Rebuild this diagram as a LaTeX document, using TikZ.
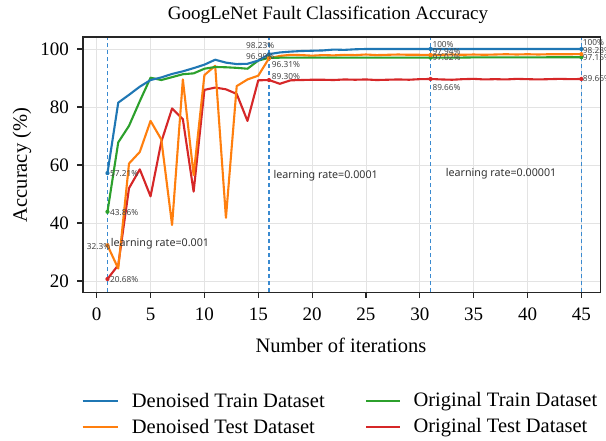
\documentclass[tikz,border=0pt]{standalone}
\usepackage{fontspec}
\setmainfont{Liberation Serif}
\newfontfamily\lblfont{Noto Sans}
\definecolor{cblue}{HTML}{1F77B4}
\definecolor{corange}{HTML}{FF7F0E}
\definecolor{cgreen}{HTML}{2CA02C}
\definecolor{cred}{HTML}{D62728}
\definecolor{cdash}{HTML}{3A8AD0}
\definecolor{cgrid}{HTML}{E3E3E3}
\tikzset{
  series/.style={line width=2.1pt, line join=round, line cap=round},
  gridline/.style={draw=cgrid, line width=0.8pt},
  lrline/.style={draw=cdash, line width=1.5pt, dash pattern=on 4pt off 3pt},
  pct/.style={font=\lblfont\fontsize{8.3}{9}\selectfont, text=black!72, inner sep=0pt, anchor=west},
  lrtext/.style={font=\lblfont\fontsize{10.7}{12}\selectfont, text=black!80, inner sep=0pt, anchor=west},
  ticklab/.style={font=\fontsize{19}{21}\selectfont, inner sep=0pt},
  legtext/.style={font=\fontsize{20.5}{22}\selectfont, inner sep=0pt, anchor=west},
  legline/.style={line width=2pt},
  dot/.style={radius=2.1pt}
}
\begin{document}
\begin{tikzpicture}[x=1pt,y=-1pt]
\useasboundingbox (0,0) rectangle (606,441);
\fill[white] (0,0) rectangle (606,441);
\begin{scope}[shift={(96.7,339)},x=10.77pt,y=2.9pt]
  % grid
  \foreach \i in {0,5,...,45} \draw[gridline] (\i,16.2) -- (\i,104.1);
  \foreach \v in {20,40,...,100} \draw[gridline] (-1.27,\v) -- (46.8,\v);
  % learning-rate dashed lines
  \foreach \i in {1,16,31,45} \draw[lrline] (\i,16.2) -- (\i,104.1);
  % series
  \draw[series, cred] plot coordinates {(1,20.68)(2,25.5)(3,52)(4,58.5)(5,49.2)(6,68)(7,79.5)(8,75.8)(9,50.8)(10,85.9)(11,86.7)(12,86.1)(13,84.5)(14,75.2)(15,89.2)(16,89.3)(17,88.0)(18,89.2)(19,89.3)(20,89.4)(21,89.4)(22,89.3)(23,89.5)(24,89.4)(25,89.5)(26,89.3)(27,89.4)(28,89.5)(29,89.4)(30,89.6)(31,89.66)(32,89.5)(33,89.4)(34,89.6)(35,89.7)(36,89.5)(37,89.6)(38,89.5)(39,89.7)(40,89.6)(41,89.5)(42,89.6)(43,89.7)(44,89.6)(45,89.66)};
  \draw[series, corange] plot coordinates {(1,32.3)(2,24.3)(3,60.5)(4,64.5)(5,75.2)(6,68.8)(7,39.3)(8,89.5)(9,56.5)(10,91)(11,94.2)(12,41.8)(13,87.2)(14,89.5)(15,90.8)(16,96.8)(17,97.6)(18,98.0)(19,97.9)(20,97.7)(21,97.9)(22,97.8)(23,98.0)(24,97.9)(25,98.1)(26,97.9)(27,98.0)(28,98.1)(29,98.0)(30,98.0)(31,97.94)(32,98.0)(33,98.1)(34,98.0)(35,98.1)(36,98.0)(37,98.1)(38,98.2)(39,98.1)(40,98.2)(41,98.1)(42,98.2)(43,98.2)(44,98.2)(45,98.23)};
  \draw[series, cgreen] plot coordinates {(1,43.86)(2,67.8)(3,73.5)(4,82)(5,90.1)(6,89.3)(7,90.3)(8,91.3)(9,91.6)(10,93.2)(11,93.8)(12,93.7)(13,93.5)(14,93.2)(15,96.0)(16,96.99)(17,97.0)(18,97.0)(19,97.0)(20,97.0)(21,97.0)(22,97.0)(23,97.0)(24,97.0)(25,97.0)(26,97.0)(27,97.0)(28,97.0)(29,97.0)(30,97.0)(31,97.02)(32,97.0)(33,97.05)(34,97.05)(35,97.1)(36,97.1)(37,97.1)(38,97.1)(39,97.1)(40,97.1)(41,97.1)(42,97.15)(43,97.15)(44,97.15)(45,97.15)};
  \draw[series, cblue] plot coordinates {(1,57.21)(2,81.5)(3,84.2)(4,87)(5,89.3)(6,90.2)(7,91.4)(8,92.3)(9,93.4)(10,94.6)(11,96.3)(12,95.3)(13,94.8)(14,94.9)(15,96)(16,98.23)(17,98.8)(18,99.1)(19,99.3)(20,99.4)(21,99.5)(22,99.8)(23,99.7)(24,99.9)(25,100)(26,100)(27,100)(28,100)(29,100)(30,100)(31,100)(32,100)(33,100)(34,100)(35,100)(36,100)(37,100)(38,100)(39,100)(40,100)(41,100)(42,100)(43,100)(44,100)(45,100)};
  % markers
  \foreach \i/\v in {1/57.21,16/98.23,31/100,45/100} \fill[cblue] (\i,\v) circle[dot];
  \foreach \i/\v in {1/43.86,16/96.99,31/97.02,45/97.15} \fill[cgreen] (\i,\v) circle[dot];
  \foreach \i/\v in {1/32.3,16/96.8,31/97.94,45/98.23} \fill[corange] (\i,\v) circle[dot];
  \foreach \i/\v in {1/20.68,16/89.3,31/89.66,45/89.66} \fill[cred] (\i,\v) circle[dot];
\end{scope}
% frame and ticks
\draw[black!85, line width=1.2pt] (83,37) rectangle (600.7,292.3);
\foreach \k in {0,...,9} {
  \pgfmathsetmacro{\xx}{96.7+53.85*\k}
  \draw[black!85, line width=1.1pt] (\xx,292.3) -- (\xx,298);
  \pgfmathtruncatemacro{\lab}{5*\k}
  \node[ticklab] (xt\k) at (\xx,314) {\lab};
}
\foreach \k in {1,...,5} {
  \pgfmathsetmacro{\yy}{339-58*\k}
  \draw[black!85, line width=1.1pt] (77,\yy) -- (83,\yy);
  \pgfmathtruncatemacro{\lab}{20*\k}
  \node[ticklab, anchor=east] (yt\k) at (69,\yy) {\lab};
}
% titles
\node[font=\fontsize{19}{21}\selectfont, inner sep=0pt] (title) at (328,15) {GoogLeNet Fault Classification Accuracy};
\node[font=\fontsize{20.5}{22}\selectfont, inner sep=0pt] (xlabel) at (341,345) {Number of iterations};
\node[font=\fontsize{20.5}{22}\selectfont, inner sep=0pt, rotate=90] (ylabel) at (22,165) {Accuracy (\%)};
% percent labels
\node[pct] (l1a) at (110,174) {57.21\%};
\node[pct] (l1b) at (110,213) {43.86\%};
\node[pct, anchor=east] (l1c) at (110.5,246.5) {32.3\%};
\node[pct] (l1d) at (110,280) {20.68\%};
\node[pct] (l2a) at (246,46) {98.23\%};
\node[pct] (l2b) at (246,56.7) {96.99\%};
\node[pct] (l2c) at (271.7,65) {96.31\%};
\node[pct] (l2d) at (271.7,76.7) {89.30\%};
\node[pct] (l3a) at (432.3,44.5) {100\%};
\node[pct] (l3b) at (432.3,51.5) {97.94\%};
\node[pct] (l3c) at (432.3,57.8) {97.02\%};
\node[pct] (l3d) at (432.3,87.3) {89.66\%};
\node[pct] (l4a) at (582.7,42.7) {100\%};
\node[pct] (l4b) at (582.7,50.7) {98.23\%};
\node[pct] (l4c) at (582.7,57.6) {97.15\%};
\node[pct] (l4d) at (582.7,79) {89.66\%};
% learning rate labels
\node[lrtext] (lr1) at (110.7,244) {learning rate=0.001};
\node[lrtext] (lr2) at (273.3,175.7) {learning rate=0.0001};
\node[lrtext] (lr3) at (445.7,174) {learning rate=0.00001};
% legend
\coordinate (lga1) at (82.7,401); \coordinate (lga2) at (117.7,401);
\coordinate (lgb1) at (82.7,427); \coordinate (lgb2) at (117.7,427);
\coordinate (lgc1) at (366,401); \coordinate (lgc2) at (400,401);
\coordinate (lgd1) at (366,427); \coordinate (lgd2) at (400,427);
\draw[legline, draw=cblue] (lga1) -- (lga2);
\draw[legline, draw=corange] (lgb1) -- (lgb2);
\draw[legline, draw=cgreen] (lgc1) -- (lgc2);
\draw[legline, draw=cred] (lgd1) -- (lgd2);
\node[legtext] (lta) at (131.7,400.7) {Denoised Train Dataset};
\node[legtext] (ltb) at (131.7,426.7) {Denoised Test Dataset};
\node[legtext] (ltc) at (413.3,401.5) {Original Train Dataset};
\node[legtext] (ltd) at (413.3,427.5) {Original Test Dataset};
\end{tikzpicture}
\end{document}
